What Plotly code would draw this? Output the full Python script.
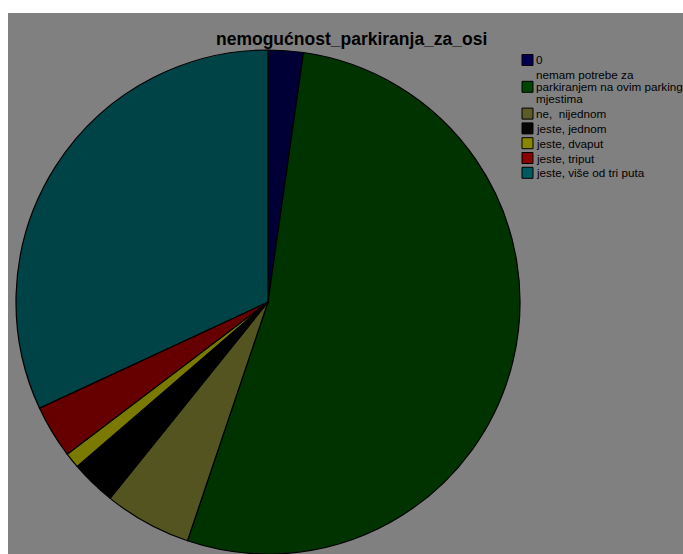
import plotly.graph_objects as go

# Survey answers and their share of responses (%)
categories = [
    "0",
    "nemam potrebe za\nparkiranjem na ovim parking\nmjestima",
    "ne,  nijednom",
    "jeste, jednom",
    "jeste, dvaput",
    "jeste, triput",
    "jeste, više od tri puta",
]
values = [2.25, 52.9, 5.6, 2.9, 1.0, 3.4, 31.9]
slice_colors = ["#000036", "#003300", "#545421", "#000000", "#7a7a00", "#660000", "#004347"]
legend_colors = ["#000050", "#004400", "#5c5c2a", "#050505", "#888800", "#880000", "#005a60"]
title_text = "nemogućnost_parkiranja_za_osi"

W, H = 683, 554
ML, MT = 8, 13
PW, PH = W - ML, H - MT


def px(x):
    return (x - ML) / PW


def py(y):
    return 1 - (y - MT) / PH


# pie placement (pixel centre and radius)
cx, cy, r = 268, 302, 252

fig = go.Figure(
    go.Pie(
        labels=[c.replace("\n", " ") for c in categories],
        values=values,
        sort=False,
        direction="clockwise",
        rotation=0,
        textinfo="none",
        hoverinfo="label+percent",
        marker=dict(colors=slice_colors, line=dict(color="#000000", width=1.2)),
        domain=dict(x=[px(cx - r), px(cx + r)], y=[max(py(cy + r), 0), py(cy - r)]),
        showlegend=False,
    )
)

shapes = [
    dict(type="rect", xref="paper", yref="paper", x0=0, x1=1, y0=0, y1=1,
         fillcolor="#808080", line=dict(width=0), layer="below")
]
annotations = [
    dict(text="<b>" + title_text + "</b>", xref="paper", yref="paper",
         x=px(351), y=py(39.5), xanchor="center", yanchor="middle", showarrow=False,
         font=dict(family="Liberation Sans, Arial, sans-serif", size=17.5, color="#000000"))
]

# hand-built legend: small bordered squares with one annotation per text line
item_h, line_h = 14.8, 12.0
sq = 11
y_center = 60.0
prev_h = None
for name, col in zip(categories, legend_colors):
    lines = name.split("\n")
    h = item_h + (len(lines) - 1) * line_h
    if prev_h is not None:
        y_center += (prev_h + h) / 2
    prev_h = h
    shapes.append(dict(type="rect", xref="paper", yref="paper",
                       x0=px(522), x1=px(522 + sq),
                       y0=py(y_center + sq / 2), y1=py(y_center - sq / 2),
                       fillcolor=col, line=dict(color="#000000", width=1), layer="above"))
    top = y_center - (len(lines) - 1) * line_h / 2
    for k, ln in enumerate(lines):
        annotations.append(dict(text=ln, xref="paper", yref="paper",
                                x=px(535), y=py(top + k * line_h), xanchor="left",
                                yanchor="middle", showarrow=False, borderpad=0,
                                font=dict(family="Liberation Sans, Arial, sans-serif",
                                          size=11.7, color="#000000")))

fig.update_layout(
    width=W, height=H,
    margin=dict(l=ML, t=MT, r=0, b=0),
    paper_bgcolor="#ffffff",
    shapes=shapes,
    annotations=annotations,
    showlegend=False,
)

fig.write_html("out.html")
